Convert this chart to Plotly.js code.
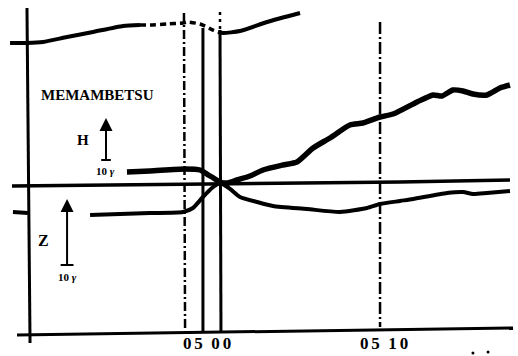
<!DOCTYPE html>
<html>
<head>
<meta charset="utf-8">
<script src="https://cdn.plot.ly/plotly-3.0.1.min.js"></script>
<style>html,body{margin:0;padding:0;background:#fff;}#chart{width:518px;height:356px;}</style>
</head>
<body>
<div id="chart"></div>
<script>
// x: minutes relative to 05 00 UT; y: trace deflection in gamma (H scale)
const station = "MEMAMBETSU";
const tickLabels = ["0\u20065 \u00a00\u20060", "0\u20065 \u00a01\u20060"];
const tickTimes = [-0.81, 10.19];

// top (unlabelled) trace
const D_t = [-13.04,-11.99,-10.99,-9.50,-7.89,-6.02,-4.97,-4.35,-3.29,-2.30,-2.05,-1.24,-0.43,-0.12,0.19,1.24,2.92,4.97];
const D_v = [34.05,34.05,34.29,35.48,36.67,38.10,38.33,38.33,38.57,38.81,39.05,38.57,37.14,36.67,36.43,36.90,39.05,41.19];

// H trace
const H_t = [-5.78,-4.35,-2.17,-1.24,-0.93,-0.50,0,0.43,1.06,1.86,2.67,3.91,4.78,5.78,6.83,8.07,8.88,9.94,10.75,12.24,13.23,13.79,14.47,15.09,15.71,16.58,17.39,18.01];
const H_v = [3.33,3.57,4.05,3.81,3.10,2.14,0.95,0.71,1.43,2.38,3.81,5.00,5.71,9.05,11.43,14.52,15.00,16.43,17.14,20.00,21.67,21.43,22.86,22.62,21.90,21.67,23.33,24.05];

// Z trace
const Z_t = [-8.07,-6.21,-4.35,-2.30,-1.68,-1.06,-0.50,0,0.62,1.24,2.30,3.29,5.40,7.45,9.13,9.94,11.18,11.99,14.10,15.09,15.71,16.58,18.01];
const Z_v = [-6.90,-6.67,-6.43,-6.19,-5.24,-2.62,-0.48,0.71,-0.71,-2.62,-3.81,-4.76,-5.48,-6.19,-5.24,-4.29,-3.57,-3.10,-1.67,-1.43,-1.90,-1.67,-1.19];

// Z level before gap
const Zpre_t = [-12.86,-11.93];
const Zpre_v = [-6.19,-6.43];

// baselines
const base_t = [-12.92,1.24,11.18,18.01];
const base_v = [0,0.48,0.95,1.43];
const bottom_t = [-12.61,0,18.20];
const bottom_v = [-35.48,-34.76,-33.81];

// time marker lines
const left_t = [-11.99,-11.80];
const left_v = [42.38,-37.38];
const m1_t = [-2.24,-2.17]; const m1_v = [41.19,-34.76];
const m2_t = [-1.06,-1.06]; const m2_v = [37.62,-34.76];
const m3top_t = [0,0]; const m3top_v = [41.43,37.14];
const m3_t = [0,0.06]; const m3_v = [37.14,-34.76];
const m4_t = [9.94,9.94]; const m4_v = [39.05,-33.57];

// scale bars (10 gamma)
const Hbar_t = -7.08; const Hbar_v = [6.19,16.19];
const Zbar_t = -9.50; const Zbar_v = [-18.81,-3.10];

const dots_t = [15.71,16.65]; const dots_v = [-39.76,-39.52];

function ln(x,y,w,dash,shape){
  return {x:x,y:y,mode:'lines',type:'scatter',hoverinfo:'skip',
    line:{color:'#000',width:w,dash:dash||'solid',shape:shape||'linear',smoothing:0.6}};
}
const traces = [
  ln(base_t,base_v,3.5),
  ln(bottom_t,bottom_v,3),
  ln(left_t,left_v,3),
  ln(m1_t,m1_v,2.5,'9px,3px,2px,3px'),
  ln(m2_t,m2_v,3),
  ln(m3top_t,m3top_v,2.5,'3px,4px'),
  ln(m3_t,m3_v,3),
  ln(m4_t,m4_v,2.5,'12px,3px,2px,3px'),
  ln(D_t.slice(0,7),D_v.slice(0,7),4,'solid','spline'),
  ln(D_t.slice(6,14),D_v.slice(6,14),3.5,'6px,4px','spline'),
  ln(D_t.slice(13),D_v.slice(13),4,'solid','spline'),
  ln(H_t,H_v,5.5,'solid','spline'),
  ln(Z_t,Z_v,4,'solid','spline'),
  ln(Zpre_t,Zpre_v,4),
  ln([Hbar_t-0.3,Hbar_t+0.3],[Hbar_v[0],Hbar_v[0]],2),
  ln([Hbar_t,Hbar_t],[Hbar_v[0],Hbar_v[1]-1.5],2),
  ln([Zbar_t-0.4,Zbar_t+0.4],[Zbar_v[0],Zbar_v[0]],2),
  ln([Zbar_t,Zbar_t],[Zbar_v[0],Zbar_v[1]-1.0],2),
  {x:dots_t,y:dots_v,mode:'markers',type:'scatter',hoverinfo:'skip',marker:{color:'#000',size:3}}
];

const serif = 'Liberation Serif, Times New Roman, serif';
const annotations = [
  {x:-7.58,y:21.67,text:'<b>'+station+'</b>',showarrow:false,font:{family:serif,size:15,color:'#000'}},
  {x:-8.51,y:10.95,text:'<b>H</b>',showarrow:false,font:{family:serif,size:15,color:'#000'}},
  {x:-7.14,y:3.57,text:'<b>10 <i>γ</i></b>',showarrow:false,font:{family:serif,size:11,color:'#000'}},
  {x:-10.99,y:-12.86,text:'<b>Z</b>',showarrow:false,font:{family:serif,size:16,color:'#000'}},
  {x:-9.50,y:-21.67,text:'<b>10 <i>γ</i></b>',showarrow:false,font:{family:serif,size:11,color:'#000'}},
  {x:Hbar_t,y:Hbar_v[1],ax:Hbar_t,ay:Hbar_v[1]-3,axref:'x',ayref:'y',text:'',showarrow:true,arrowhead:2,arrowsize:1.3,arrowwidth:2,arrowcolor:'#000'},
  {x:Zbar_t,y:Zbar_v[1],ax:Zbar_t,ay:Zbar_v[1]-3,axref:'x',ayref:'y',text:'',showarrow:true,arrowhead:2,arrowsize:1.3,arrowwidth:2,arrowcolor:'#000'}
];
tickLabels.forEach((t,i)=>annotations.push({x:tickTimes[i],y:-37.6,text:'<b>'+t+'</b>',showarrow:false,font:{family:serif,size:17,color:'#000'}}));

const layout = {
  width:518,height:356,margin:{l:0,r:0,t:0,b:0},
  paper_bgcolor:'#fff',plot_bgcolor:'#fff',showlegend:false,
  xaxis:{range:[-13.665,18.509],visible:false,fixedrange:true},
  yaxis:{range:[-40.48,44.29],visible:false,fixedrange:true},
  annotations:annotations
};
Plotly.newPlot('chart',traces,layout,{staticPlot:true,displayModeBar:false});
</script>
</body>
</html>
